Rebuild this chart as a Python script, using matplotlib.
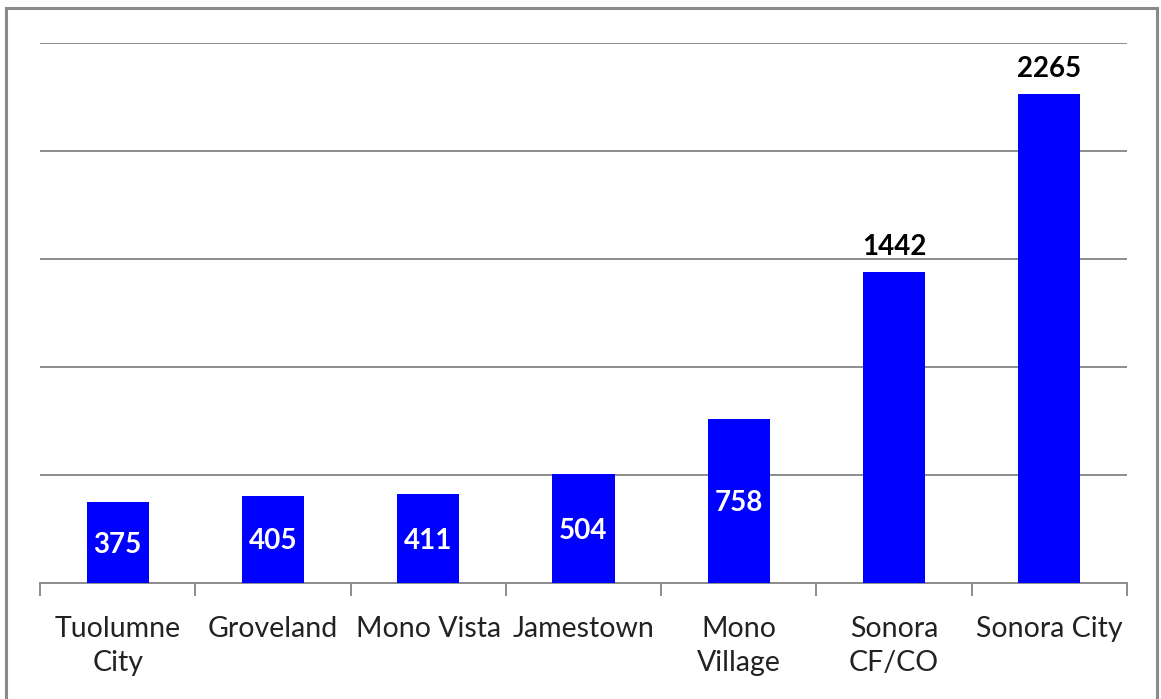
import matplotlib
matplotlib.use("Agg")
import matplotlib.pyplot as plt
from matplotlib.patches import Rectangle
import numpy as np

categories = ["Tuolumne\nCity", "Groveland", "Mono Vista", "Jamestown",
              "Mono\nVillage", "Sonora\nCF/CO", "Sonora City"]
values = [375, 405, 411, 504, 758, 1442, 2265]
inside_label = [True, True, True, True, True, False, False]

W, H = 1161, 699
fig = plt.figure(figsize=(W / 100, H / 100), dpi=100)
fig.patch.set_facecolor("white")

ax = fig.add_axes([40 / W, 1 - 583 / H, (1127 - 40) / W, (583 - 43) / H])
x = np.arange(len(categories))
bars = ax.bar(x, values, width=0.4, color="#0000FF", zorder=3)

ax.set_xlim(-0.5, len(categories) - 0.5)
ax.set_ylim(0, 2500)
ax.set_yticks(np.arange(0, 2501, 500))
ax.yaxis.grid(True, color="#8c8c8c", linewidth=1.4, zorder=0)
ax.tick_params(axis="y", left=False, labelleft=False)

for s in ["left", "right", "top"]:
    ax.spines[s].set_visible(False)
ax.spines["bottom"].set_color("#8c8c8c")
ax.spines["bottom"].set_linewidth(1.4)

ax.set_xticks(x)
ax.set_xticklabels(categories, fontsize=20.5, color="#222222",
                   family="Lato", linespacing=1.38)
ax.tick_params(axis="x", which="major", length=0, pad=24)
ax.set_xticks(np.arange(-0.5, len(categories), 1), minor=True)
ax.tick_params(axis="x", which="minor", length=9, width=1.4, color="#8c8c8c",
               direction="out")

for xi, v, inside in zip(x, values, inside_label):
    if inside:
        ax.text(xi, v / 2 - 10, str(v), ha="center", va="center", color="white",
                fontsize=20, fontweight="bold", family="Lato", zorder=4)
    else:
        ax.text(xi, v + 55, str(v), ha="center", va="bottom", color="black",
                fontsize=20, fontweight="bold", family="Lato", zorder=4)

fig.patches.append(Rectangle((6 / W, -0.05), (1157 - 6) / W, 1.05 - 8 / H,
                             transform=fig.transFigure, fill=False,
                             edgecolor="#8a8a8a", linewidth=2.2))

fig.savefig("out.png", dpi=100, facecolor="white")
